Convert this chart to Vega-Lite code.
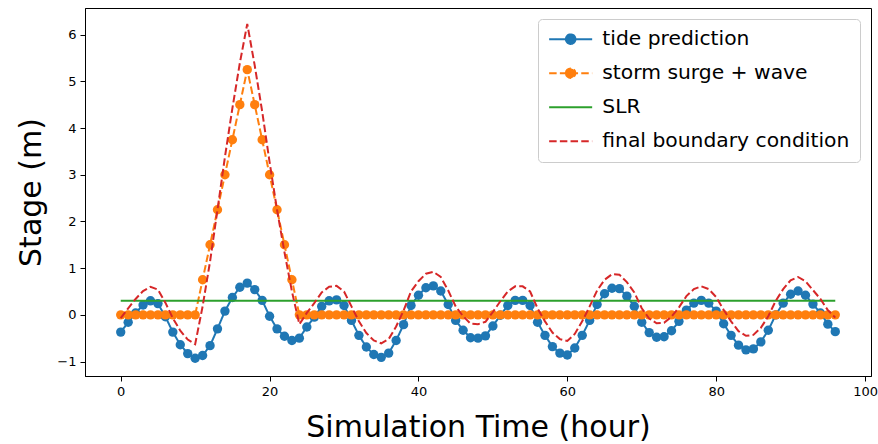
{
  "$schema": "https://vega.github.io/schema/vega-lite/v6.json",
  "width": 786,
  "height": 368,
  "autosize": {"type": "none"},
  "padding": {"left": 85, "top": 8, "right": 7, "bottom": 68},
  "background": "white",
  "config": {
    "font": "DejaVu Sans",
    "view": {"stroke": "black", "strokeWidth": 1},
    "axis": {"domainColor": "black", "tickColor": "black", "labelColor": "black", "titleColor": "black", "labelFont": "DejaVu Sans", "titleFont": "DejaVu Sans", "labelFontSize": 13, "titleFontSize": 30, "titleFontWeight": "normal", "grid": false, "tickSize": 5, "labelPadding": 4, "domainWidth": 1, "tickWidth": 1},
    "legend": {"orient": "none", "legendX": 453, "legendY": 11, "labelFont": "DejaVu Sans", "labelFontSize": 20.3, "labelColor": "black", "symbolSize": 324, "symbolStrokeWidth": 2, "labelOffset": 34, "rowPadding": 13, "padding": 10, "strokeColor": "#cccccc", "fillColor": "rgba(255,255,255,0.8)", "cornerRadius": 4, "labelLimit": 400, "symbolType": "stroke"}
  },
  "data": {"values": [
    {"h":0,"tide":-0.37,"surge":0,"slr":0.3,"final":-0.07},
    {"h":1,"tide":-0.16,"surge":0,"slr":0.3,"final":0.14},
    {"h":2,"tide":0.04,"surge":0,"slr":0.3,"final":0.34},
    {"h":3,"tide":0.21,"surge":0,"slr":0.3,"final":0.51},
    {"h":4,"tide":0.30,"surge":0,"slr":0.3,"final":0.60},
    {"h":5,"tide":0.24,"surge":0,"slr":0.3,"final":0.54},
    {"h":6,"tide":-0.04,"surge":0,"slr":0.3,"final":0.26},
    {"h":7,"tide":-0.37,"surge":0,"slr":0.3,"final":-0.07},
    {"h":8,"tide":-0.64,"surge":0,"slr":0.3,"final":-0.34},
    {"h":9,"tide":-0.83,"surge":0,"slr":0.3,"final":-0.53},
    {"h":10,"tide":-0.93,"surge":0,"slr":0.3,"final":-0.63},
    {"h":11,"tide":-0.87,"surge":0.75,"slr":0.3,"final":0.18},
    {"h":12,"tide":-0.66,"surge":1.5,"slr":0.3,"final":1.14},
    {"h":13,"tide":-0.30,"surge":2.25,"slr":0.3,"final":2.25},
    {"h":14,"tide":0.08,"surge":3.0,"slr":0.3,"final":3.38},
    {"h":15,"tide":0.37,"surge":3.75,"slr":0.3,"final":4.42},
    {"h":16,"tide":0.59,"surge":4.5,"slr":0.3,"final":5.39},
    {"h":17,"tide":0.68,"surge":5.25,"slr":0.3,"final":6.23},
    {"h":18,"tide":0.54,"surge":4.5,"slr":0.3,"final":5.34},
    {"h":19,"tide":0.31,"surge":3.75,"slr":0.3,"final":4.36},
    {"h":20,"tide":-0.03,"surge":3.0,"slr":0.3,"final":3.27},
    {"h":21,"tide":-0.30,"surge":2.25,"slr":0.3,"final":2.25},
    {"h":22,"tide":-0.46,"surge":1.5,"slr":0.3,"final":1.34},
    {"h":23,"tide":-0.55,"surge":0.75,"slr":0.3,"final":0.50},
    {"h":24,"tide":-0.50,"surge":0,"slr":0.3,"final":-0.20},
    {"h":25,"tide":-0.26,"surge":0,"slr":0.3,"final":0.04},
    {"h":26,"tide":-0.05,"surge":0,"slr":0.3,"final":0.25},
    {"h":27,"tide":0.18,"surge":0,"slr":0.3,"final":0.48},
    {"h":28,"tide":0.30,"surge":0,"slr":0.3,"final":0.60},
    {"h":29,"tide":0.32,"surge":0,"slr":0.3,"final":0.62},
    {"h":30,"tide":0.20,"surge":0,"slr":0.3,"final":0.50},
    {"h":31,"tide":-0.12,"surge":0,"slr":0.3,"final":0.18},
    {"h":32,"tide":-0.44,"surge":0,"slr":0.3,"final":-0.14},
    {"h":33,"tide":-0.69,"surge":0,"slr":0.3,"final":-0.39},
    {"h":34,"tide":-0.85,"surge":0,"slr":0.3,"final":-0.55},
    {"h":35,"tide":-0.91,"surge":0,"slr":0.3,"final":-0.61},
    {"h":36,"tide":-0.82,"surge":0,"slr":0.3,"final":-0.52},
    {"h":37,"tide":-0.55,"surge":0,"slr":0.3,"final":-0.25},
    {"h":38,"tide":-0.21,"surge":0,"slr":0.3,"final":0.09},
    {"h":39,"tide":0.20,"surge":0,"slr":0.3,"final":0.50},
    {"h":40,"tide":0.42,"surge":0,"slr":0.3,"final":0.72},
    {"h":41,"tide":0.58,"surge":0,"slr":0.3,"final":0.88},
    {"h":42,"tide":0.62,"surge":0,"slr":0.3,"final":0.92},
    {"h":43,"tide":0.51,"surge":0,"slr":0.3,"final":0.81},
    {"h":44,"tide":0.22,"surge":0,"slr":0.3,"final":0.52},
    {"h":45,"tide":-0.12,"surge":0,"slr":0.3,"final":0.18},
    {"h":46,"tide":-0.33,"surge":0,"slr":0.3,"final":-0.03},
    {"h":47,"tide":-0.49,"surge":0,"slr":0.3,"final":-0.19},
    {"h":48,"tide":-0.50,"surge":0,"slr":0.3,"final":-0.20},
    {"h":49,"tide":-0.45,"surge":0,"slr":0.3,"final":-0.15},
    {"h":50,"tide":-0.24,"surge":0,"slr":0.3,"final":0.06},
    {"h":51,"tide":-0.01,"surge":0,"slr":0.3,"final":0.29},
    {"h":52,"tide":0.20,"surge":0,"slr":0.3,"final":0.50},
    {"h":53,"tide":0.31,"surge":0,"slr":0.3,"final":0.61},
    {"h":54,"tide":0.31,"surge":0,"slr":0.3,"final":0.61},
    {"h":55,"tide":0.20,"surge":0,"slr":0.3,"final":0.50},
    {"h":56,"tide":-0.16,"surge":0,"slr":0.3,"final":0.14},
    {"h":57,"tide":-0.44,"surge":0,"slr":0.3,"final":-0.14},
    {"h":58,"tide":-0.68,"surge":0,"slr":0.3,"final":-0.38},
    {"h":59,"tide":-0.82,"surge":0,"slr":0.3,"final":-0.52},
    {"h":60,"tide":-0.86,"surge":0,"slr":0.3,"final":-0.56},
    {"h":61,"tide":-0.71,"surge":0,"slr":0.3,"final":-0.41},
    {"h":62,"tide":-0.44,"surge":0,"slr":0.3,"final":-0.14},
    {"h":63,"tide":-0.12,"surge":0,"slr":0.3,"final":0.18},
    {"h":64,"tide":0.22,"surge":0,"slr":0.3,"final":0.52},
    {"h":65,"tide":0.45,"surge":0,"slr":0.3,"final":0.75},
    {"h":66,"tide":0.57,"surge":0,"slr":0.3,"final":0.87},
    {"h":67,"tide":0.56,"surge":0,"slr":0.3,"final":0.86},
    {"h":68,"tide":0.40,"surge":0,"slr":0.3,"final":0.70},
    {"h":69,"tide":0.18,"surge":0,"slr":0.3,"final":0.48},
    {"h":70,"tide":-0.16,"surge":0,"slr":0.3,"final":0.14},
    {"h":71,"tide":-0.38,"surge":0,"slr":0.3,"final":-0.08},
    {"h":72,"tide":-0.48,"surge":0,"slr":0.3,"final":-0.18},
    {"h":73,"tide":-0.47,"surge":0,"slr":0.3,"final":-0.17},
    {"h":74,"tide":-0.34,"surge":0,"slr":0.3,"final":-0.04},
    {"h":75,"tide":-0.14,"surge":0,"slr":0.3,"final":0.16},
    {"h":76,"tide":0.10,"surge":0,"slr":0.3,"final":0.40},
    {"h":77,"tide":0.25,"surge":0,"slr":0.3,"final":0.55},
    {"h":78,"tide":0.31,"surge":0,"slr":0.3,"final":0.61},
    {"h":79,"tide":0.25,"surge":0,"slr":0.3,"final":0.55},
    {"h":80,"tide":0.08,"surge":0,"slr":0.3,"final":0.38},
    {"h":81,"tide":-0.19,"surge":0,"slr":0.3,"final":0.11},
    {"h":82,"tide":-0.44,"surge":0,"slr":0.3,"final":-0.14},
    {"h":83,"tide":-0.65,"surge":0,"slr":0.3,"final":-0.35},
    {"h":84,"tide":-0.75,"surge":0,"slr":0.3,"final":-0.45},
    {"h":85,"tide":-0.73,"surge":0,"slr":0.3,"final":-0.43},
    {"h":86,"tide":-0.58,"surge":0,"slr":0.3,"final":-0.28},
    {"h":87,"tide":-0.33,"surge":0,"slr":0.3,"final":-0.03},
    {"h":88,"tide":0.00,"surge":0,"slr":0.3,"final":0.30},
    {"h":89,"tide":0.25,"surge":0,"slr":0.3,"final":0.55},
    {"h":90,"tide":0.44,"surge":0,"slr":0.3,"final":0.74},
    {"h":91,"tide":0.51,"surge":0,"slr":0.3,"final":0.81},
    {"h":92,"tide":0.42,"surge":0,"slr":0.3,"final":0.72},
    {"h":93,"tide":0.23,"surge":0,"slr":0.3,"final":0.53},
    {"h":94,"tide":0.04,"surge":0,"slr":0.3,"final":0.34},
    {"h":95,"tide":-0.20,"surge":0,"slr":0.3,"final":0.10},
    {"h":96,"tide":-0.36,"surge":0,"slr":0.3,"final":-0.06}
  ]},
  "transform": [{"fold": ["tide", "surge", "slr", "final"], "as": ["key", "v"]}],
  "encoding": {
    "x": {"field": "h", "type": "quantitative", "scale": {"domain": [-4.8, 100.8], "nice": false, "zero": false},
      "axis": {"values": [0, 20, 40, 60, 80, 100], "format": "d", "title": "Simulation Time (hour)", "titlePadding": 14}},
    "y": {"field": "v", "type": "quantitative", "scale": {"domain": [-1.31, 6.57], "nice": false, "zero": false},
      "axis": {"values": [-1, 0, 1, 2, 3, 4, 5, 6], "format": "d", "title": "Stage (m)", "titlePadding": 10}},
    "color": {"field": "key", "type": "nominal",
      "scale": {"domain": ["tide", "surge", "slr", "final"], "range": ["#1f77b4", "#ff7f0e", "#2ca02c", "#d62728"]},
      "legend": {"title": null,
        "labelExpr": "{'tide': 'tide prediction', 'surge': 'storm surge + wave', 'slr': 'SLR', 'final': 'final boundary condition'}[datum.label]",
        "encode": {"symbols": {"update": {
          "shape": {"signal": "datum.value === 'tide' || datum.value === 'surge' ? 'M-1,0H3.78M0.86,0A0.53,0.53 0 1,1 1.92,0A0.53,0.53 0 1,1 0.86,0Z' : 'M-1,0H3.78'"},
          "fill": {"signal": "datum.value === 'tide' ? '#1f77b4' : datum.value === 'surge' ? '#ff7f0e' : 'transparent'"},
          "strokeWidth": {"value": 2},
          "opacity": {"value": 1}
        }}}}}
  },
  "layer": [
    {"transform": [{"filter": "datum.key === 'tide'"}], "mark": {"type": "line", "strokeWidth": 2},
      "encoding": {"strokeDash": {"field": "key", "type": "nominal", "scale": {"domain": ["tide", "surge", "slr", "final"], "range": [[1, 0], [7.5, 3.2], [1, 0], [7.5, 3.2]]}, "legend": {"title": null}}}},
    {"transform": [{"filter": "datum.key === 'tide'"}], "mark": {"type": "point", "filled": true, "opacity": 1, "size": 88, "shape": "circle"}},
    {"transform": [{"filter": "datum.key === 'surge'"}], "mark": {"type": "line", "strokeWidth": 2},
      "encoding": {"strokeDash": {"field": "key", "type": "nominal", "legend": {"title": null}}}},
    {"transform": [{"filter": "datum.key === 'surge'"}], "mark": {"type": "point", "filled": true, "opacity": 1, "size": 88, "shape": "circle"}},
    {"transform": [{"filter": "datum.key === 'slr'"}], "mark": {"type": "line", "strokeWidth": 2},
      "encoding": {"strokeDash": {"field": "key", "type": "nominal", "legend": {"title": null}}}},
    {"transform": [{"filter": "datum.key === 'final'"}], "mark": {"type": "line", "strokeWidth": 2},
      "encoding": {"strokeDash": {"field": "key", "type": "nominal", "legend": {"title": null}}}}
  ]
}
